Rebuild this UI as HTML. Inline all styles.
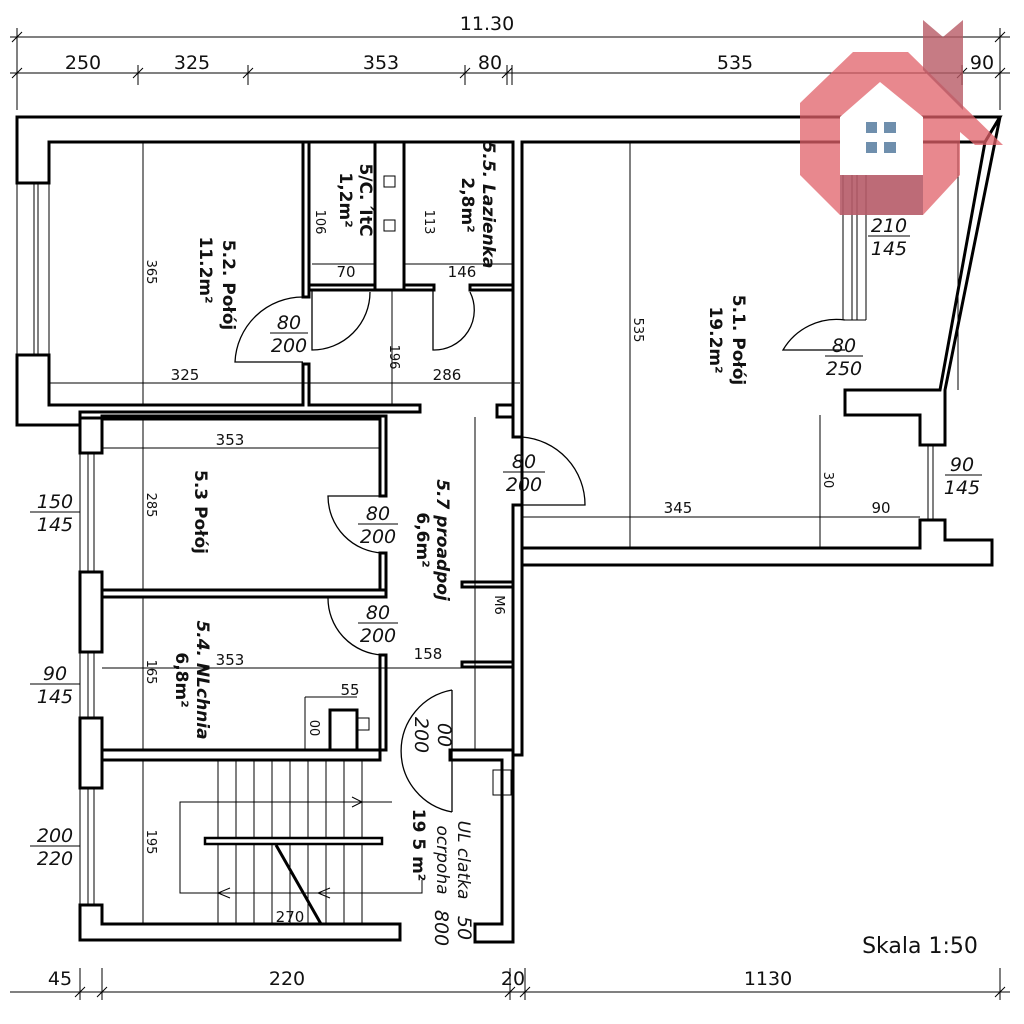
<!DOCTYPE html>
<html><head><meta charset="utf-8"><style>
html,body{margin:0;padding:0;background:#fff;}
svg{display:block;}
text{font-family:"DejaVu Sans","Liberation Sans",sans-serif;fill:#111;}
.w{fill:#fff;stroke:#000;stroke-width:3;stroke-linejoin:miter;}
.t{fill:none;stroke:#000;stroke-width:1;}
.d{fill:none;stroke:#000;stroke-width:1.3;}
</style></head><body>
<svg width="1024" height="1024" viewBox="0 0 1024 1024" xmlns="http://www.w3.org/2000/svg">
<g class="t">
<line x1="10" y1="37" x2="1010" y2="37"/>
<line x1="10" y1="73" x2="1010" y2="73"/>
<line x1="17" y1="28" x2="17" y2="110"/><line x1="1000" y1="28" x2="1000" y2="110"/>
<line x1="138" y1="65" x2="138" y2="85"/><line x1="248" y1="65" x2="248" y2="85"/>
<line x1="465" y1="65" x2="465" y2="85"/><line x1="507" y1="65" x2="507" y2="85"/><line x1="512" y1="65" x2="512" y2="85"/>
<line x1="962" y1="65" x2="962" y2="85"/>
<line x1="12" y1="42" x2="22" y2="32"/><line x1="995" y1="42" x2="1005" y2="32"/>
<line x1="12" y1="78" x2="22" y2="68"/><line x1="133" y1="78" x2="143" y2="68"/><line x1="243" y1="78" x2="253" y2="68"/>
<line x1="460" y1="78" x2="470" y2="68"/><line x1="502" y1="78" x2="512" y2="68"/><line x1="957" y1="78" x2="967" y2="68"/><line x1="995" y1="78" x2="1005" y2="68"/>
<line x1="10" y1="992" x2="1010" y2="992"/>
<line x1="80" y1="968" x2="80" y2="1000"/><line x1="102" y1="968" x2="102" y2="1000"/>
<line x1="510" y1="968" x2="510" y2="1000"/><line x1="525" y1="968" x2="525" y2="1000"/><line x1="1000" y1="968" x2="1000" y2="1000"/>
<line x1="75" y1="997" x2="85" y2="987"/><line x1="97" y1="997" x2="107" y2="987"/><line x1="505" y1="997" x2="515" y2="987"/><line x1="520" y1="997" x2="530" y2="987"/><line x1="995" y1="997" x2="1005" y2="987"/>
</g>
<g font-size="19" text-anchor="middle">
<text x="487" y="30">11.30</text>
<text x="83" y="69">250</text><text x="192" y="69">325</text><text x="381" y="69">353</text><text x="490" y="69">80</text><text x="735" y="69">535</text><text x="982" y="69">90</text>
<text x="60" y="985">45</text><text x="287" y="985">220</text><text x="513" y="985">20</text><text x="768" y="985">1130</text>
</g>

<!-- walls -->
<path class="w" d="M17,117 L1000,117 L985,142 L522,142 L522,548 L920,548 L920,520 L945,520 L945,540 L992,540 L992,565 L513,565 L513,505 L522,505 L522,437 L513,437 L513,142 L49,142 L49,183 L17,183 Z"/>
<path class="w" d="M1000,117 L945,390 L945,445 L920,445 L920,415 L845,415 L845,390 L940,390 L985,142 Z"/>
<path class="w" d="M17,355 L49,355 L49,405 L303,405 L303,364 L309,364 L309,405 L420,405 L420,412 L80,412 L80,425 L17,425 Z"/>
<rect class="w" x="303" y="142" width="6" height="155"/>
<rect class="w" x="375" y="142" width="29" height="148" />
<rect class="w" x="309" y="285" width="66" height="5"/>
<rect class="w" x="404" y="285" width="30" height="5"/>
<rect class="w" x="470" y="285" width="43" height="5"/>
<rect class="w" x="513" y="505" width="9" height="250"/>
<rect class="w" x="497" y="405" width="16" height="12"/>
<rect class="w" x="80" y="418" width="22" height="35"/>
<rect class="w" x="80" y="572" width="22" height="80"/>
<rect class="w" x="80" y="718" width="22" height="70"/>
<rect class="w" x="102" y="416" width="284" height="3"/>
<rect class="w" x="380" y="416" width="6" height="80"/>
<rect class="w" x="380" y="553" width="6" height="40"/>
<rect class="w" x="102" y="590" width="284" height="7"/>
<rect class="w" x="380" y="655" width="6" height="95"/>
<path class="w" d="M102,750 L380,750 L380,760 L102,760 Z"/>
<path class="w" d="M330,710 L357,710 L357,750 L330,750 Z"/>
<rect class="w" x="462" y="582" width="51" height="5"/>
<rect class="w" x="462" y="662" width="51" height="5"/>
<path class="w" d="M450,750 L513,750 L513,942 L475,942 L475,924 L502,924 L502,760 L450,760 Z"/>
<path class="w" d="M80,905 L102,905 L102,924 L400,924 L400,940 L80,940 Z"/>
<!-- windows -->
<g class="t">
<line x1="34" y1="183" x2="34" y2="355"/><line x1="38" y1="183" x2="38" y2="355"/>
<line x1="17" y1="183" x2="17" y2="355"/><line x1="49" y1="183" x2="49" y2="355"/>
<line x1="88" y1="453" x2="88" y2="572"/><line x1="94" y1="453" x2="94" y2="572"/>
<line x1="88" y1="652" x2="88" y2="718"/><line x1="94" y1="652" x2="94" y2="718"/>
<line x1="88" y1="788" x2="88" y2="905"/><line x1="94" y1="788" x2="94" y2="905"/>
<line x1="80" y1="453" x2="80" y2="905"/>
<line x1="843" y1="142" x2="843" y2="320"/><line x1="866" y1="142" x2="866" y2="320"/><line x1="852" y1="142" x2="852" y2="320"/><line x1="857" y1="142" x2="857" y2="320"/>
<line x1="843" y1="320" x2="866" y2="320"/>
<line x1="928" y1="445" x2="928" y2="520"/><line x1="933" y1="445" x2="933" y2="520"/>
<line x1="958" y1="142" x2="958" y2="390"/>
</g>
<!-- doors -->
<g class="d">
<path d="M303,297 A68,68 0 0 0 235,362 L303,362"/>
<path d="M312,290 L312,350 A58,58 0 0 0 370,292"/>
<path d="M433,290 L433,350 A40,40 0 0 0 470,292"/>
<path d="M522,437 A68,68 0 0 1 585,505 L522,505"/>
<path d="M383,496 L328,496 A57,57 0 0 0 383,553"/>
<path d="M328,597 A57,57 0 0 0 383,655"/>
<path d="M452,690 L452,812 M452,690 A62,62 0 0 0 452,812"/>
<path d="M845,320 A62,62 0 0 0 783,350 L845,350"/>
</g>
<!-- stairs -->
<g class="t">
<line x1="218" y1="760" x2="218" y2="924"/><line x1="236" y1="760" x2="236" y2="924"/><line x1="254" y1="760" x2="254" y2="924"/><line x1="272" y1="760" x2="272" y2="924"/>
<line x1="290" y1="760" x2="290" y2="924"/><line x1="308" y1="760" x2="308" y2="924"/><line x1="326" y1="760" x2="326" y2="924"/><line x1="344" y1="760" x2="344" y2="924"/><line x1="362" y1="760" x2="362" y2="924"/>
<polyline points="392,802 180,802 180,893 422,893 422,880"/>
<polyline points="352,797 362,802 352,807"/>
<polyline points="230,888 218,893 230,898"/>
<polyline points="330,888 318,893 330,898"/>
<rect x="493" y="770" width="18" height="25"/>
<rect x="357" y="718" width="12" height="12"/>
<rect x="384" y="176" width="11" height="11"/><rect x="384" y="220" width="11" height="11"/>
<line x1="143" y1="142" x2="143" y2="405"/><line x1="49" y1="383" x2="520" y2="383"/>
<line x1="312" y1="264" x2="375" y2="264"/><line x1="404" y1="264" x2="513" y2="264"/>
<line x1="392" y1="290" x2="392" y2="405"/>
<line x1="630" y1="142" x2="630" y2="548"/><line x1="522" y1="517" x2="920" y2="517"/>
<line x1="820" y1="415" x2="820" y2="548"/>
<line x1="102" y1="448" x2="380" y2="448"/><line x1="143" y1="418" x2="143" y2="590"/>
<line x1="102" y1="668" x2="462" y2="668"/><line x1="143" y1="597" x2="143" y2="750"/>
<line x1="143" y1="760" x2="143" y2="924"/>
<line x1="475" y1="417" x2="475" y2="750"/>
<line x1="305" y1="697" x2="305" y2="750"/><line x1="305" y1="697" x2="357" y2="697"/>
</g>
<rect x="205" y="838" width="177" height="6" fill="#fff" stroke="#000" stroke-width="2.5"/>
<line x1="276" y1="845" x2="321" y2="924" stroke="#000" stroke-width="3"/>
<g font-size="19" text-anchor="middle" font-style="italic">
<text x="289" y="329">80</text><line x1="270" y1="333" x2="308" y2="333" stroke="#000"/><text x="289" y="352">200</text>
<text x="844" y="352">80</text><line x1="825" y1="356" x2="863" y2="356" stroke="#000"/><text x="844" y="375">250</text>
<text x="524" y="468">80</text><line x1="503" y1="472" x2="545" y2="472" stroke="#000"/><text x="524" y="491">200</text>
<text x="378" y="520">80</text><line x1="358" y1="524" x2="398" y2="524" stroke="#000"/><text x="378" y="543">200</text>
<text x="378" y="619">80</text><line x1="358" y1="623" x2="398" y2="623" stroke="#000"/><text x="378" y="642">200</text>
<text x="889" y="232">210</text><line x1="868" y1="236" x2="910" y2="236" stroke="#000"/><text x="889" y="255">145</text>
<text x="962" y="471">90</text><line x1="945" y1="475" x2="982" y2="475" stroke="#000"/><text x="962" y="494">145</text>
<text x="55" y="508">150</text><line x1="30" y1="512" x2="80" y2="512" stroke="#000"/><text x="55" y="531">145</text>
<text x="55" y="680">90</text><line x1="30" y1="684" x2="80" y2="684" stroke="#000"/><text x="55" y="703">145</text>
<text x="55" y="842">200</text><line x1="30" y1="846" x2="80" y2="846" stroke="#000"/><text x="55" y="865">220</text>
</g>
<g font-size="15" text-anchor="middle">
<text x="185" y="380">325</text><text x="230" y="445">353</text><text x="230" y="665">353</text>
<text x="428" y="659">158</text><text x="447" y="380">286</text><text x="678" y="513">345</text><text x="881" y="513">90</text>
<text x="346" y="277">70</text><text x="462" y="277">146</text><text x="350" y="695">55</text><text x="290" y="922">270</text>
</g>
<g font-size="13" text-anchor="middle">
<text transform="translate(147,272) rotate(90)">365</text>
<text transform="translate(147,505) rotate(90)">285</text>
<text transform="translate(147,672) rotate(90)">165</text>
<text transform="translate(147,842) rotate(90)">195</text>
<text transform="translate(634,330) rotate(90)">535</text>
<text transform="translate(824,480) rotate(90)">30</text>
<text transform="translate(316,222) rotate(90)">106</text>
<text transform="translate(425,222) rotate(90)">113</text>
<text transform="translate(390,357) rotate(90)">196</text>
<text transform="translate(310,728) rotate(90)">00</text>
</g>
<g font-size="17" text-anchor="middle">
<text transform="translate(223,285) rotate(90)" font-weight="bold">5.2. Połój</text>
<text transform="translate(200,270) rotate(90)" font-weight="bold">11.2m²</text>
<text transform="translate(733,340) rotate(90)" font-weight="bold">5.1. Połój</text>
<text transform="translate(710,340) rotate(90)" font-weight="bold">19.2m²</text>
<text transform="translate(195,512) rotate(90)" font-weight="bold">5.3 Połój</text>
<text transform="translate(197,680) rotate(90)" font-weight="bold" font-style="italic">5.4. NLchnia</text>
<text transform="translate(176,680) rotate(90)" font-weight="bold">6,8m²</text>
<text transform="translate(437,540) rotate(90)" font-weight="bold" font-style="italic">5.7 proadpoj</text>
<text transform="translate(417,540) rotate(90)" font-weight="bold">6,6m²</text>
<text transform="translate(360,200) rotate(90)" font-weight="bold">5/C. ΊtC</text>
<text transform="translate(340,200) rotate(90)" font-weight="bold">1,2m²</text>
<text transform="translate(483,205) rotate(90)" font-weight="bold" font-style="italic">5.5. Lazienka</text>
<text transform="translate(462,205) rotate(90)" font-weight="bold">2,8m²</text>
<text transform="translate(458,860) rotate(90)" font-style="italic">UL clatka</text>
<text transform="translate(437,860) rotate(90)" font-style="italic">ocrpoha</text>
<text transform="translate(413,845) rotate(90)" font-weight="bold">19 5 m²</text>
<text transform="translate(495,605) rotate(90)" font-size="13">M6</text>
<text transform="translate(438,735) rotate(90)" font-style="italic" font-size="19">00</text>
<text transform="translate(415,735) rotate(90)" font-style="italic" font-size="19">200</text>
<text transform="translate(458,928) rotate(90)" font-style="italic" font-size="19">50</text>
<text transform="translate(435,928) rotate(90)" font-style="italic" font-size="19">800</text>
</g>
<text x="920" y="953" font-size="22" text-anchor="middle">Skala 1:50</text>
<!-- logo -->
<polygon points="853,52 908,52 1003,145 975,145 960,132 960,175 923,215 840,215 800,175 800,103" fill="#e06068" opacity="0.75"/>
<polygon points="923,20 943,37 963,20 963,110 923,70" fill="#b85a65" opacity="0.8"/>
<polygon points="840,117 880,82 923,117 923,175 840,175" fill="#fff"/>
<rect x="840" y="175" width="83" height="40" fill="#a05868" opacity="0.6"/>
<g fill="#6f8fad">
<rect x="866" y="122" width="11" height="11"/><rect x="884" y="122" width="12" height="11"/>
<rect x="866" y="142" width="11" height="11"/><rect x="884" y="142" width="12" height="11"/>
</g>
</svg>
</body></html>
